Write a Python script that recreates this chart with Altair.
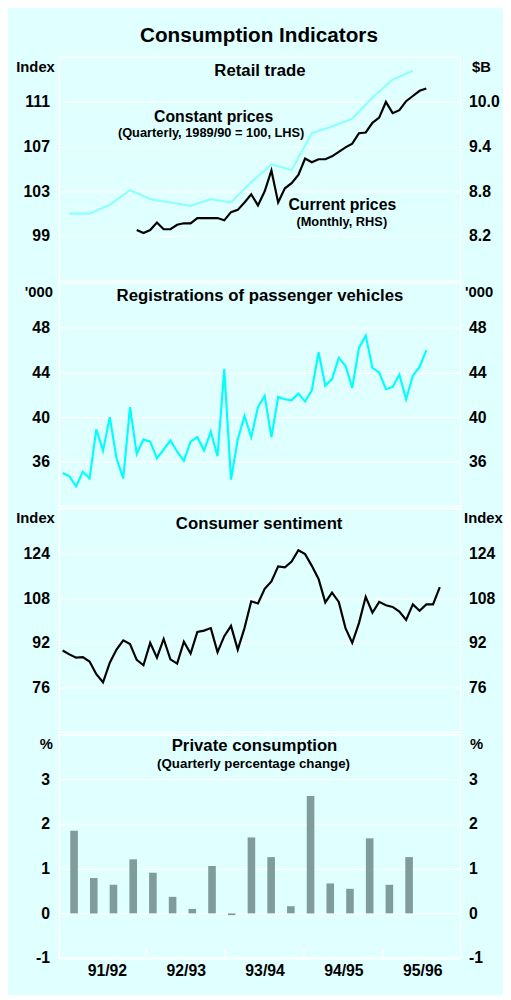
import altair as alt
import pandas as pd

FONT = "Liberation Sans"
BG = "#e0ffff"

# ---- time axis: months since July 1991 (0 = Jul 1991) ----
fy_labels = ["91/92", "92/93", "93/94", "94/95", "95/96"]
fy_label_month = [6, 18, 30, 42, 54]
fy_boundaries = [12, 24, 36, 48]

# ---- quarterly data: Sep-qtr 1991 .. Dec-qtr 1995 (plotted at mid-quarter month) ----
quarter_mid_month = [1, 4, 7, 10, 13, 16, 19, 22, 25, 28, 31, 34, 37, 40, 43, 46, 49, 52]
retail_constant = [101.0, 101.0, 101.8, 103.1, 102.3, 102.0, 101.7, 102.3, 102.0,
                   103.8, 105.4, 104.9, 108.2, 108.8, 109.5, 111.4, 113.0, 113.8]
consumption_change = [1.85, 0.79, 0.64, 1.21, 0.91, 0.37, 0.10, 1.06, -0.04,
                      1.70, 1.26, 0.16, 2.63, 0.67, 0.55, 1.68, 0.64, 1.26]

# ---- monthly data ----
retail_current_start = 11  # June 1992
retail_current = [8.28, 8.24, 8.28, 8.38, 8.29, 8.29, 8.35, 8.37, 8.37, 8.44,
                  8.44, 8.44, 8.44, 8.41, 8.52, 8.55, 8.65, 8.76, 8.61, 8.80,
                  9.08, 8.65, 8.84, 8.91, 9.02, 9.24, 9.19, 9.23, 9.23, 9.27,
                  9.33, 9.39, 9.44, 9.58, 9.59, 9.72, 9.79, 10.00, 9.85, 9.89,
                  10.01, 10.08, 10.15, 10.18]

registrations_start = 0  # July 1991
registrations = [35.0, 34.7, 33.8, 35.1, 34.5, 38.9, 37.0, 40.0, 36.3, 34.5,
                 40.9, 36.7, 38.0, 37.8, 36.3, 37.1, 37.9, 36.9, 36.1, 37.8,
                 38.2, 37.0, 38.7, 36.5, 44.3, 34.4, 38.0, 40.1, 38.2, 40.9,
                 41.9, 38.2, 41.8, 41.6, 41.5, 42.1, 41.4, 42.4, 45.8, 42.8,
                 43.4, 45.3, 44.6, 42.6, 46.2, 47.3, 44.4, 44.0, 42.5, 42.7,
                 43.8, 41.6, 43.7, 44.5, 46.0]

sentiment_start = 0  # July 1991
sentiment = [89.3, 87.9, 86.7, 86.9, 85.3, 80.8, 77.9, 84.9, 89.6, 92.9,
             91.6, 85.9, 84.0, 92.0, 86.7, 93.4, 86.1, 84.6, 92.4, 88.2,
             95.9, 96.4, 97.3, 88.7, 94.4, 98.1, 89.6, 97.3, 106.9, 106.1,
             111.4, 114.0, 119.4, 119.1, 121.1, 125.2, 123.8, 119.6, 114.9, 106.5,
             110.0, 106.7, 97.3, 92.0, 99.1, 108.5, 102.8, 106.7, 105.5, 104.9,
             103.2, 100.2, 105.8, 103.5, 105.8, 105.8, 112.0]

# ---- tables ----
df_const = pd.DataFrame({"m": quarter_mid_month, "v": retail_constant})
df_cons = pd.DataFrame({"m": quarter_mid_month, "v": consumption_change})
df_cur = pd.DataFrame({"m": [retail_current_start + i for i in range(len(retail_current))],
                       "v": retail_current})
df_reg = pd.DataFrame({"m": [registrations_start + i for i in range(len(registrations))],
                       "v": registrations})
df_sent = pd.DataFrame({"m": [sentiment_start + i for i in range(len(sentiment))],
                        "v": sentiment})
df_fy = pd.DataFrame({"m": fy_boundaries})

W = 407
H = 226.5
XDOM = [-0.5, 59.09]


def xenc(axis=None):
    return alt.X("m:Q", scale=alt.Scale(domain=XDOM, nice=False, zero=False), axis=axis)


def yaxis(orient, title, title_x, values, grid=False, fmt=None, expr=None):
    kw = dict(
        orient=orient, title=title, titleAngle=0, titleX=title_x, titleY=14,
        titleAlign="right" if orient == "left" else "left", titleBaseline="alphabetic",
        titleFont=FONT, titleFontSize=15, titleFontWeight="bold", titleColor="black",
        values=values, labelFont=FONT, labelFontSize=16, labelFontWeight="bold",
        labelColor="black", labelPadding=10 if orient == "left" else 8,
        domain=False, ticks=False, grid=grid, gridColor="white", gridWidth=1.2,
        gridOpacity=1, labelOverlap=False,
    )
    if fmt:
        kw["format"] = fmt
    if expr:
        kw["labelExpr"] = expr
    return alt.Axis(**kw)


def text(t, x, y, size, align="center"):
    return alt.Chart(pd.DataFrame({"t": [t]})).mark_text(
        font=FONT, fontSize=size, fontWeight="bold", color="black",
        align=align, baseline="alphabetic"
    ).encode(x=alt.value(x), y=alt.value(y), text="t:N")


# ---- Panel 1: Retail trade ----
const_line = alt.Chart(df_const).mark_line(color="#8cffff", strokeWidth=2.2).encode(
    x=xenc(),
    y=alt.Y("v:Q", scale=alt.Scale(domain=[95, 115], nice=False, zero=False),
            axis=yaxis("left", "Index", -5, [99, 103, 107, 111], grid=True)),
)
cur_line = alt.Chart(df_cur).mark_line(color="black", strokeWidth=2.2).encode(
    x=xenc(),
    y=alt.Y("v:Q", scale=alt.Scale(domain=[7.6, 10.6], nice=False, zero=False),
            axis=yaxis("right", "$B", 11, [8.2, 8.8, 9.4, 10.0], fmt=".1f")),
)
p1 = alt.layer(
    const_line, cur_line,
    text("Consumption Indicators", 202.5, -15, 21),
    text("Retail trade", W / 2, 19, 17),
    text("Constant prices", 156.5, 66, 16),
    text("(Quarterly, 1989/90 = 100, LHS)", 154, 81, 13),
    text("Current prices", 287, 155, 16),
    text("(Monthly, RHS)", 286.5, 171, 13),
).resolve_scale(y="independent").properties(width=W, height=H)

# ---- Panel 2: Registrations ----
reg_vals = [36, 40, 44, 48]
reg_scale = alt.Scale(domain=[32, 52], nice=False, zero=False)
reg_line = alt.Chart(df_reg).mark_line(color="#00ffff", strokeWidth=2.2).encode(
    x=xenc(), y=alt.Y("v:Q", scale=reg_scale, axis=yaxis("left", "'000", -7, reg_vals, grid=True)))
reg_right = alt.Chart(df_reg).mark_line(opacity=0).encode(
    x=xenc(), y=alt.Y("v:Q", scale=reg_scale, axis=yaxis("right", "'000", 4, reg_vals)))
p2 = alt.layer(
    reg_line, reg_right,
    text("Registrations of passenger vehicles", W / 2, 18, 17),
).resolve_scale(y="independent").properties(width=W, height=H)

# ---- Panel 3: Consumer sentiment ----
sent_vals = [76, 92, 108, 124]
sent_scale = alt.Scale(domain=[60, 140], nice=False, zero=False)
sent_line = alt.Chart(df_sent).mark_line(color="black", strokeWidth=2.2).encode(
    x=xenc(), y=alt.Y("v:Q", scale=sent_scale, axis=yaxis("left", "Index", -5, sent_vals, grid=True)))
sent_right = alt.Chart(df_sent).mark_line(opacity=0).encode(
    x=xenc(), y=alt.Y("v:Q", scale=sent_scale, axis=yaxis("right", "Index", 3, sent_vals)))
p3 = alt.layer(
    sent_line, sent_right,
    text("Consumer sentiment", 202.7, 20, 17),
).resolve_scale(y="independent").properties(width=W, height=H)

# ---- Panel 4: Private consumption ----
cons_vals = [-1, 0, 1, 2, 3]
cons_scale = alt.Scale(domain=[-1, 4], nice=False, zero=False)
label_array = "[" + ",".join("'%s'" % s for s in fy_labels) + "]"
x_axis = alt.Axis(
    values=fy_label_month,
    labelExpr="%s[round((datum.value - %d) / 12)]" % (label_array, fy_label_month[0]),
    domain=False, ticks=False, grid=False, title=None, labelFlush=False,
    labelFont=FONT, labelFontSize=16, labelFontWeight="bold", labelColor="black",
    labelPadding=5,
)
bars = alt.Chart(df_cons).mark_bar(size=7.7, color="#809b9b").encode(
    x=xenc(x_axis),
    y=alt.Y("v:Q", scale=cons_scale,
            axis=yaxis("left", "%", -7, cons_vals, grid=True, expr="'' + datum.value")))
bars_right = alt.Chart(df_cons).mark_bar(size=7.7, opacity=0).encode(
    x=xenc(x_axis),
    y=alt.Y("v:Q", scale=cons_scale,
            axis=yaxis("right", "%", 9, cons_vals, expr="'' + datum.value")))
fy_ticks = alt.Chart(df_fy).mark_rule(color="white", strokeWidth=1.5).encode(
    x=xenc(x_axis), y=alt.value(H - 9), y2=alt.value(H))
p4 = alt.layer(
    bars, bars_right, fy_ticks,
    text("Private consumption", 198, 17, 17),
    text("(Quarterly percentage change)", 197, 34, 13.5),
).resolve_scale(y="independent").properties(width=W, height=H)

chart = alt.vconcat(p1, p2, p3, p4, spacing=0).configure(
    background=BG,
    padding={"left": 7, "top": 10, "right": 0, "bottom": 8},
).configure_view(stroke="white", strokeWidth=1.5, fill=BG)

chart.save("out.html", embed_options={"renderer": "svg", "actions": False})
